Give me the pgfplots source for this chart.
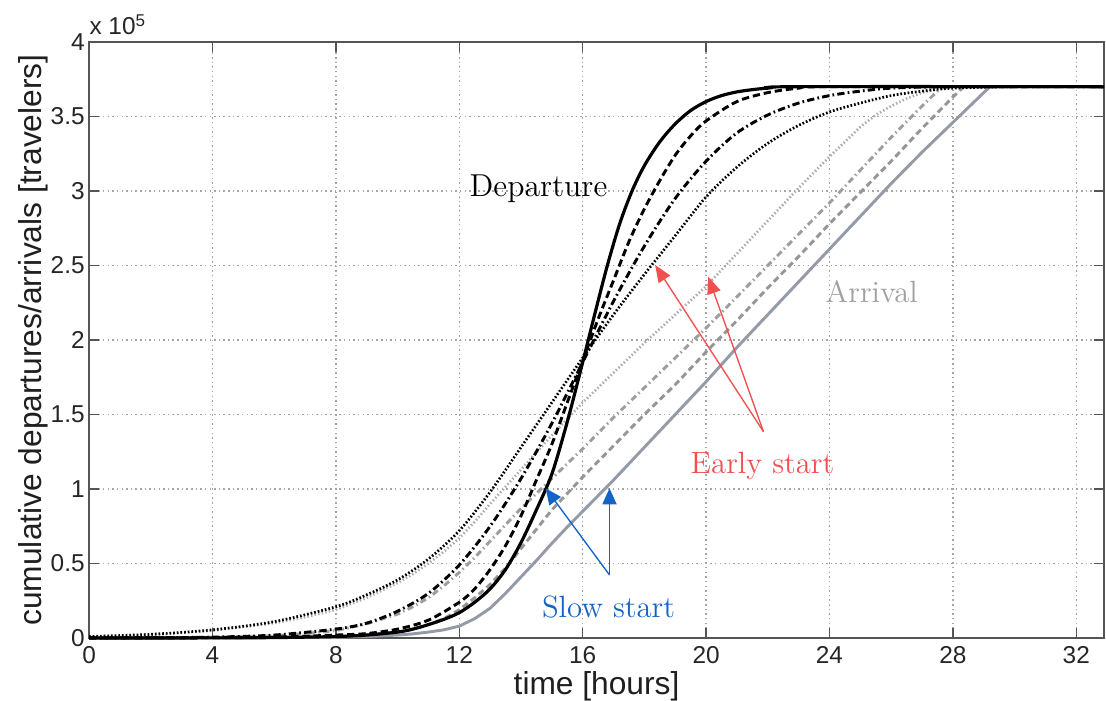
\documentclass[border=0pt]{standalone}
\usepackage{fontspec}
\setsansfont{Liberation Sans}
\usepackage{pgfplots}
\pgfplotsset{compat=1.18}
\usetikzlibrary{arrows.meta}
\definecolor{axgray}{RGB}{85,85,85}
\definecolor{gridgray}{RGB}{165,165,165}
\definecolor{arrgray}{RGB}{160,160,160}
\definecolor{earlyred}{RGB}{240,80,80}
\definecolor{slowblue}{RGB}{20,100,200}
\definecolor{gsolid}{RGB}{148,154,166}
\definecolor{gdash}{RGB}{150,150,150}
\definecolor{gdashdot}{RGB}{158,158,158}
\definecolor{gdot}{RGB}{172,172,172}
\begin{document}
\begin{tikzpicture}
\begin{axis}[name=ax,
  scale only axis, width=416pt, height=244.3pt,
  xmin=0, xmax=32.9, ymin=0, ymax=4,
  xtick={0,4,...,32}, xticklabels={0,4,8,12,16,20,24,28,32},
  ytick={0,0.5,...,4}, yticklabels={0,0.5,1,1.5,2,2.5,3,3.5,4},
  tick align=inside, major tick length=4pt, xtick pos=both, ytick pos=both,
  xticklabel pos=lower, yticklabel pos=left,
  tick style={axgray, line width=0.6pt},
  axis line style={axgray, line width=0.8pt},
  grid=major, grid style={gridgray, line width=0.6pt, dash pattern=on 0.6pt off 1.3pt},
  ticklabel style={font=\sffamily\fontsize{10}{12}\selectfont, text=black!85},
  yticklabel style={inner sep=1.6pt},
  xlabel={time [hours]}, ylabel={cumulative departures/arrivals [travelers]},
  label style={font=\sffamily\fontsize{13}{15}\selectfont, text=black!88},
  x label style={at={(axis description cs:0.5,0)}, anchor=north, inner sep=0pt, yshift=-13.5pt},
  y label style={at={(axis description cs:0,0.5)}, anchor=south, inner sep=0pt, yshift=16.4pt},
  clip=false,
]
% ---- arrival curves (gray) ----
\addplot[gdot, line width=1.1pt, dash pattern=on 0.6pt off 0.9pt] coordinates {
(0,0.01) (2,0.02) (4,0.05) (6,0.1) (7,0.14) (8,0.19) (9,0.27) (10,0.37) (10.5,0.43) (11,0.5) (11.5,0.58) (12,0.67) (12.5,0.78) (13,0.9) (14,1.13) (15,1.36) (16,1.58) (17,1.78) (18,1.98) (19,2.17) (20,2.36) (21,2.58) (22,2.8) (23,3.02) (24,3.23) (25,3.43) (25.5,3.51) (26,3.57) (26.5,3.62) (27,3.66) (27.5,3.685) (28,3.7) (32.9,3.7)};
\addplot[gdashdot, line width=1.2pt, dash pattern=on 2.6pt off 1.4pt on 0.6pt off 1.4pt] coordinates {
(0,0) (4,0.005) (6,0.015) (7,0.03) (8,0.05) (9,0.095) (10,0.16) (10.5,0.21) (11,0.27) (11.5,0.35) (12,0.44) (12.5,0.54) (13,0.65) (13.5,0.76) (14,0.87) (15,1.07) (16,1.27) (17,1.48) (18,1.68) (19,1.88) (20,2.08) (21,2.29) (22,2.5) (23,2.71) (24,2.92) (25,3.14) (26,3.36) (27,3.57) (27.6,3.69) (28,3.7) (32.9,3.7)};
\addplot[gdash, line width=1.2pt, dash pattern=on 2.6pt off 1.6pt] coordinates {
(0,0) (6,0.004) (8,0.01) (9,0.02) (10,0.04) (10.5,0.06) (11,0.09) (11.5,0.13) (12,0.19) (12.5,0.27) (13,0.36) (13.5,0.47) (14,0.6) (14.5,0.73) (15,0.86) (16,1.08) (17,1.29) (18,1.5) (19,1.7) (20,1.92) (21,2.13) (22,2.35) (23,2.56) (24,2.78) (25,2.99) (26,3.2) (27,3.42) (28,3.63) (28.35,3.7) (32.9,3.7)};
\addplot[gsolid, line width=1.2pt] coordinates {
(0,0) (8,0.005) (9,0.01) (10,0.02) (10.5,0.028) (11,0.04) (11.5,0.055) (12,0.08) (12.5,0.13) (13,0.2) (13.5,0.3) (14,0.41) (14.5,0.52) (15,0.635) (15.5,0.745) (16,0.85) (17,1.06) (18,1.28) (19,1.5) (20,1.72) (21,1.95) (22,2.17) (23,2.39) (24,2.61) (25,2.83) (26,3.05) (27,3.26) (28,3.46) (29.2,3.7) (32.9,3.7)};
% ---- departure curves (black) ----
\addplot[black, line width=1.1pt, dash pattern=on 0.7pt off 0.8pt, smooth, tension=0.5] coordinates {
(0,0.01) (2,0.025) (4,0.055) (6,0.11) (8,0.21) (9,0.29) (10,0.39) (11,0.53) (12,0.72) (13,0.98) (14,1.28) (15,1.58) (16,1.88) (17,2.17) (18,2.44) (19,2.7) (20,2.96) (21,3.16) (22,3.32) (23,3.44) (24,3.53) (25,3.59) (26,3.64) (27,3.67) (28,3.69) (30,3.7) (32.9,3.7)};
\addplot[black, line width=1.2pt, dash pattern=on 3pt off 1.3pt on 0.7pt off 1.3pt, smooth, tension=0.5] coordinates {
(0,0) (2,0.002) (4,0.006) (6,0.02) (8,0.06) (9,0.1) (10,0.18) (11,0.3) (12,0.49) (13,0.75) (14,1.07) (15,1.44) (16,1.85) (17,2.26) (18,2.63) (19,2.95) (20,3.2) (21,3.39) (22,3.51) (23,3.59) (24,3.64) (25,3.67) (26,3.69) (28,3.7) (32.9,3.7)};
\addplot[black, line width=1.2pt, dash pattern=on 3pt off 1.6pt, smooth, tension=0.5] coordinates {
(0,0) (4,0.002) (6,0.006) (8,0.02) (9,0.03) (10,0.06) (11,0.12) (12,0.24) (12.5,0.33) (13,0.46) (13.5,0.62) (14,0.82) (14.5,1.06) (15,1.3) (15.5,1.58) (16,1.86) (16.5,2.14) (17,2.4) (17.5,2.66) (18,2.88) (18.5,3.07) (19,3.24) (19.5,3.37) (20,3.47) (21,3.6) (22,3.66) (23,3.69) (24,3.7) (32.9,3.7)};
\addplot[black, line width=1.3pt, smooth, tension=0.5] coordinates {
(0,0) (4,0.001) (6,0.003) (8,0.01) (9,0.02) (10,0.04) (10.5,0.06) (11,0.09) (11.5,0.125) (12,0.17) (12.5,0.24) (13,0.33) (13.5,0.46) (14,0.64) (14.5,0.86) (15,1.1) (15.5,1.45) (16,1.85) (16.4,2.18) (16.8,2.5) (17.2,2.78) (17.6,3.0) (18,3.17) (18.5,3.33) (19,3.45) (19.5,3.54) (20,3.6) (20.5,3.64) (21,3.665) (21.5,3.68) (22,3.69) (23,3.7) (32.9,3.7)};
% ---- annotations ----
\node[anchor=base west, inner sep=0pt, font=\sffamily\fontsize{10}{12}\selectfont, text=black!85, yshift=2.9pt] at (rel axis cs:0,1) {x 10\textsuperscript{5}};
\node[anchor=base, inner sep=0pt, font=\rmfamily\fontsize{13}{15}\selectfont] at (axis cs:14.57,2.96) {Departure};
\node[anchor=base, inner sep=0pt, font=\rmfamily\fontsize{12.6}{14}\selectfont, text=arrgray] at (axis cs:25.37,2.255) {Arrival};
\node[anchor=base, inner sep=0pt, font=\rmfamily\fontsize{12.6}{14}\selectfont, text=earlyred] at (axis cs:21.83,1.107) {Early start};
\node[anchor=base, inner sep=0pt, font=\rmfamily\fontsize{12.6}{14}\selectfont, text=slowblue] at (axis cs:16.84,0.141) {Slow start};
\draw[earlyred, line width=0.55pt, -{Triangle[length=7pt,width=5.6pt]}] (axis cs:21.86,1.385) -- (axis cs:18.35,2.503);
\draw[earlyred, line width=0.55pt, -{Triangle[length=7pt,width=5.6pt]}] (axis cs:21.86,1.385) -- (axis cs:20.07,2.425);
\draw[slowblue, line width=0.55pt, -{Triangle[length=6.6pt,width=5.8pt]}] (axis cs:16.87,0.423) -- (axis cs:14.80,1.005);
\draw[slowblue, line width=0.55pt, -{Triangle[length=6.6pt,width=5.8pt]}] (axis cs:16.87,0.423) -- (axis cs:16.87,1.005);
\end{axis}
\path (ax.south west) ++(-36.5pt,-25.8pt) coordinate (bbsw);
\path (ax.north east) ++(0.8pt,17.2pt) coordinate (bbne);
\pgfresetboundingbox
\path[use as bounding box] (bbsw) rectangle (bbne);
\end{tikzpicture}
\end{document}
